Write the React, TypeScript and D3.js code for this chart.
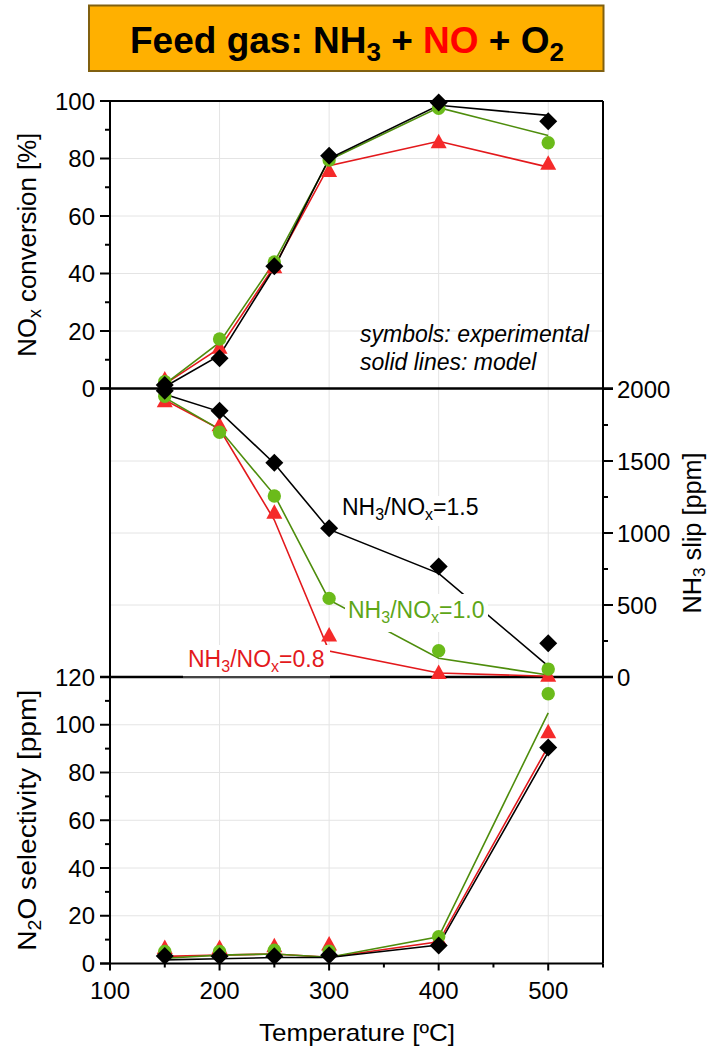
import React from 'react';
import * as d3 from 'd3';

// ---------- data ----------
const TEMPS = [150, 200, 250, 300, 400, 500];

// NOx conversion [%]
const convExpRed = [3, 14, 42, 75.5, 85.5, 78];
const convExpGreen = [2.4, 17.2, 44, 79.5, 97.5, 85.5];
const convExpBlack = [1.2, 10.5, 42.5, 81, 99.5, 93];
const convModRed = [1.5, 14, 42.5, 77.5, 86, 77];
const convModGreen = [1.5, 16, 44, 79.5, 97.7, 88];
const convModBlack = [0.6, 11.5, 42, 80, 98.5, 95];

// NH3 slip [ppm]
const slipExpRed = [1912, 1745, 1137, 285, 25, 5];
const slipExpGreen = [1950, 1700, 1257, 546, 183, 55];
const slipExpBlack = [1988, 1849, 1488, 1033, 767, 234];
const slipModRed = [1924, 1722, 1090, 180, 28, 5];
const slipModGreen = [1940, 1720, 1265, 535, 130, 14];
const slipModBlack = [1963, 1843, 1483, 1025, 720, 76];

// N2O selectivity [ppm]
const n2oExpRed = [6.3, 6.3, 7, 7.7, 10, 96.7];
const n2oExpGreen = [5, 5, 5.6, 5.2, 11.2, 113];
const n2oExpBlack = [3.1, 3, 3, 3.5, 7.5, 90.5];
const n2oModRed = [3, 3.5, 4, 2.6, 9.1, 91];
const n2oModGreen = [2.2, 3.5, 4, 2.6, 11.2, 105];
const n2oModBlack = [1.5, 2, 2.5, 2.5, 7.7, 88.5];

// ticks
const xTickMajor = [100, 200, 300, 400, 500];
const xTickMinor = [150, 250, 350, 450, 550];
const xGrid = [200, 300, 400, 500];
const convTicks = [0, 20, 40, 60, 80, 100];
const convMinor = [10, 30, 50, 70, 90];
const slipTicks = [0, 500, 1000, 1500, 2000];
const slipMinor = [250, 750, 1250, 1750];
const n2oTicks = [0, 20, 40, 60, 80, 100, 120];
const n2oMinor = [10, 30, 50, 70, 90, 110];

const FONT = '"Liberation Sans", Arial, Helvetica, sans-serif';
const RED = '#f52a2a';
const RED_LINE = '#e3191c';
const GREEN = '#6bbb1a';
const GREEN_LINE = '#4e8d0c';
const GREEN_TEXT = '#5ea617';
const BLACK = '#000000';
const GRID = '#e4e4e4';

const diamond = (cx: number, cy: number, r = 9) =>
  `M${cx},${cy - r}L${cx + r},${cy}L${cx},${cy + r}L${cx - r},${cy}Z`;
const triangle = (cx: number, cy: number) =>
  `M${cx},${cy - 9}L${cx + 8},${cy + 5.5}L${cx - 8},${cy + 5.5}Z`;

export default function App() {
  const x = d3.scaleLinear().domain([100, 550]).range([110, 603]);
  const yTop = d3.scaleLinear().domain([0, 100]).range([388.5, 101]);
  const yMid = d3.scaleLinear().domain([0, 2000]).range([677, 389]);
  const yBot = d3.scaleLinear().domain([0, 120]).range([963.5, 677]);

  const L = 110;
  const R = 603;

  const mkLine = (y: d3.ScaleLinear<number, number>) =>
    d3
      .line<number>()
      .x((_, i) => x(TEMPS[i]))
      .y((d) => y(d));

  const panels = [
    {
      y: yTop,
      red: [convExpRed, convModRed],
      green: [convExpGreen, convModGreen],
      black: [convExpBlack, convModBlack],
    },
    {
      y: yMid,
      red: [slipExpRed, slipModRed],
      green: [slipExpGreen, slipModGreen],
      black: [slipExpBlack, slipModBlack],
    },
    {
      y: yBot,
      red: [n2oExpRed, n2oModRed],
      green: [n2oExpGreen, n2oModGreen],
      black: [n2oExpBlack, n2oModBlack],
    },
  ];

  const tickFont = { fontFamily: FONT, fontSize: 24, fill: '#000' } as const;

  return (
    <svg
      width={713}
      height={1051}
      style={{ position: 'absolute', left: 0, top: 0, background: '#fff' }}
    >
      <rect x={0} y={0} width={713} height={1051} fill="#fff" />

      {/* Title box */}
      <rect x={89} y={5.5} width={514.5} height={65.5} fill="#ffb000" stroke="#806010" strokeWidth={2} />
      <text
        x={347}
        y={53}
        textAnchor="middle"
        fontFamily={FONT}
        fontWeight="bold"
        fontSize={37}
        fill="#000"
      >
        Feed gas: NH
        <tspan fontSize={26} dy={8}>3</tspan>
        <tspan dy={-8}> + </tspan>
        <tspan fill="#ff0000">NO</tspan>
        <tspan> + O</tspan>
        <tspan fontSize={26} dy={8}>2</tspan>
      </text>

      {/* grid */}
      <g stroke={GRID} strokeWidth={1}>
        {xGrid.map((v) => (
          <line key={'gx' + v} x1={x(v)} x2={x(v)} y1={101} y2={963.5} />
        ))}
        {convTicks.slice(1, -1).map((v) => (
          <line key={'gt' + v} x1={L} x2={R} y1={yTop(v)} y2={yTop(v)} />
        ))}
        {slipTicks.slice(1, -1).map((v) => (
          <line key={'gm' + v} x1={L} x2={R} y1={yMid(v)} y2={yMid(v)} />
        ))}
        {n2oTicks.slice(1, -1).map((v) => (
          <line key={'gb' + v} x1={L} x2={R} y1={yBot(v)} y2={yBot(v)} />
        ))}
      </g>

      {/* axes frame */}
      <g stroke="#000" strokeWidth={2} fill="none">
        <line x1={L} x2={R} y1={101} y2={101} />
        <line x1={L} x2={L} y1={101} y2={963.5} />
        <line x1={R} x2={R} y1={101} y2={963.5} />
        <line x1={L - 10} x2={R + 10} y1={yTop(0)} y2={yTop(0)} strokeWidth={2.5} />
        <line x1={L - 10} x2={R + 10} y1={yBot(120)} y2={yBot(120)} strokeWidth={2.5} />
        <line x1={L - 10} x2={R} y1={963.5} y2={963.5} />
        {convTicks.map((v) => (
          <line key={'tl' + v} x1={L - 10} x2={L} y1={yTop(v)} y2={yTop(v)} />
        ))}
        {convMinor.map((v) => (
          <line key={'tlm' + v} x1={L - 5} x2={L} y1={yTop(v)} y2={yTop(v)} />
        ))}
        {n2oTicks.map((v) => (
          <line key={'bl' + v} x1={L - 10} x2={L} y1={yBot(v)} y2={yBot(v)} />
        ))}
        {n2oMinor.map((v) => (
          <line key={'blm' + v} x1={L - 5} x2={L} y1={yBot(v)} y2={yBot(v)} />
        ))}
        {slipTicks.map((v) => (
          <line key={'rm' + v} x1={R} x2={R + 10} y1={yMid(v)} y2={yMid(v)} />
        ))}
        {slipMinor.map((v) => (
          <line key={'rmm' + v} x1={R} x2={R + 5} y1={yMid(v)} y2={yMid(v)} />
        ))}
        {xTickMajor.map((v) => (
          <line key={'xt' + v} x1={x(v)} x2={x(v)} y1={963.5} y2={970.5} />
        ))}
        {xTickMinor.map((v) => (
          <line key={'xtm' + v} x1={x(v)} x2={x(v)} y1={963.5} y2={967.5} />
        ))}
      </g>

      {/* series */}
      {panels.map((p, pi) => {
        const line = mkLine(p.y);
        return (
          <g key={'p' + pi}>
            <path d={line(p.red[1]) || ''} fill="none" stroke={RED_LINE} strokeWidth={1.6} />
            <path d={line(p.green[1]) || ''} fill="none" stroke={GREEN_LINE} strokeWidth={1.6} />
            <path d={line(p.black[1]) || ''} fill="none" stroke={BLACK} strokeWidth={1.6} />
            {p.red[0].map((v, i) => (
              <path key={'r' + i} d={triangle(x(TEMPS[i]), p.y(v))} fill={RED} />
            ))}
            {p.green[0].map((v, i) => (
              <circle key={'g' + i} cx={x(TEMPS[i])} cy={p.y(v)} r={6.7} fill={GREEN} />
            ))}
            {p.black[0].map((v, i) => (
              <path key={'b' + i} d={diamond(x(TEMPS[i]), p.y(v))} fill={BLACK} />
            ))}
          </g>
        );
      })}

      {/* tick labels */}
      <g {...tickFont}>
        {convTicks.map((v) => (
          <text key={'ltl' + v} x={95} y={yTop(v)} dy="0.36em" textAnchor="end">
            {v}
          </text>
        ))}
        {n2oTicks.map((v) => (
          <text key={'lbl' + v} x={95} y={yBot(v)} dy="0.36em" textAnchor="end">
            {v}
          </text>
        ))}
        {slipTicks.map((v) => (
          <text key={'rml' + v} x={617} y={yMid(v)} dy="0.36em" textAnchor="start">
            {v}
          </text>
        ))}
        {xTickMajor.map((v) => (
          <text key={'xl' + v} x={x(v)} y={999} textAnchor="middle">
            {v}
          </text>
        ))}
      </g>

      {/* axis titles */}
      <text
        transform={`translate(36,${(yTop(0) + yTop(100)) / 2}) rotate(-90)`}
        textAnchor="middle"
        fontFamily={FONT}
        fontSize={26}
        textLength={224}
        lengthAdjust="spacingAndGlyphs"
      >
        NO<tspan fontSize={18} dy={5}>x</tspan>
        <tspan dy={-5}> conversion [%]</tspan>
      </text>
      <text
        transform={`translate(36,${(yBot(0) + yBot(120)) / 2}) rotate(-90)`}
        textAnchor="middle"
        fontFamily={FONT}
        fontSize={26}
        textLength={261}
        lengthAdjust="spacingAndGlyphs"
      >
        N<tspan fontSize={18} dy={5}>2</tspan>
        <tspan dy={-5}>O selectivity [ppm]</tspan>
      </text>
      <text
        transform={`translate(701,${(yMid(0) + yMid(2000)) / 2}) rotate(-90)`}
        textAnchor="middle"
        fontFamily={FONT}
        fontSize={25}
        textLength={161}
        lengthAdjust="spacingAndGlyphs"
      >
        NH<tspan fontSize={17} dy={4}>3</tspan>
        <tspan dy={-4}> slip [ppm]</tspan>
      </text>
      <text
        x={357}
        y={1041}
        textAnchor="middle"
        fontFamily={FONT}
        fontSize={24}
        textLength={196}
        lengthAdjust="spacingAndGlyphs"
      >
        Temperature [ºC]
      </text>

      {/* notes */}
      <text x={360} y={342} fontFamily={FONT} fontSize={23} fontStyle="italic">
        symbols: experimental
      </text>
      <text x={360} y={370} fontFamily={FONT} fontSize={23} fontStyle="italic">
        solid lines: model
      </text>

      {/* ratio labels */}
      <rect x={340} y={496} width={142} height={30} fill="#fff" />
      <text x={342} y={515} fontFamily={FONT} fontSize={23} fill="#000">
        NH<tspan fontSize={16} dy={5}>3</tspan>
        <tspan dy={-5}>/NO</tspan>
        <tspan fontSize={16} dy={5}>x</tspan>
        <tspan dy={-5}>=1.5</tspan>
      </text>
      <rect x={345} y={594} width={143} height={38} fill="#fff" />
      <text x={348} y={618} fontFamily={FONT} fontSize={23} fill={GREEN_TEXT}>
        NH<tspan fontSize={16} dy={5}>3</tspan>
        <tspan dy={-5}>/NO</tspan>
        <tspan fontSize={16} dy={5}>x</tspan>
        <tspan dy={-5}>=1.0</tspan>
      </text>
      <rect x={183} y={645} width={147} height={31} fill="#fff" />
      <line x1={183} x2={330} y1={677} y2={677} stroke="#888" strokeWidth={1} />
      <text x={188} y={667} fontFamily={FONT} fontSize={23} fill={RED_LINE}>
        NH<tspan fontSize={16} dy={5}>3</tspan>
        <tspan dy={-5}>/NO</tspan>
        <tspan fontSize={16} dy={5}>x</tspan>
        <tspan dy={-5}>=0.8</tspan>
      </text>
    </svg>
  );
}
